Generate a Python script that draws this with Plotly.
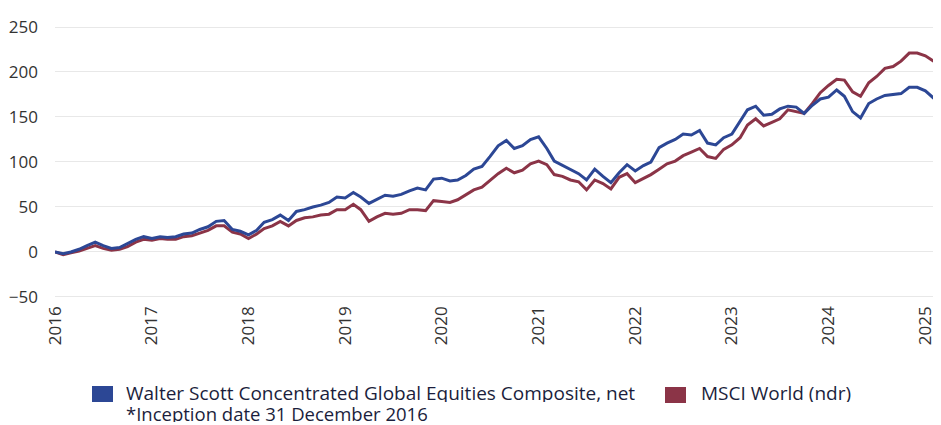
import pandas as pd
import plotly.graph_objects as go

dates = pd.date_range("2016-01-01", periods=111, freq="MS")

walter_scott = [
    0, -2, 0, 3, 7, 11, 7, 4, 5, 9, 14, 17,
    15, 17, 16, 17, 20, 21, 25, 28, 34, 35, 25, 23,
    19, 24, 33, 36, 41, 35, 45, 47, 50, 52, 55, 61,
    60, 66, 61, 54, 58, 63, 62, 64, 68, 71, 69, 81,
    82, 79, 80, 85, 92, 95, 106, 118, 124, 115, 118, 125,
    128, 115, 101, 96, 92, 87, 80, 92, 84, 77, 88, 97,
    90, 96, 100, 116, 121, 125, 131, 130, 135, 121, 119, 127,
    131, 146, 158, 162, 152, 153, 159, 162, 161, 154, 163, 170,
    172, 180, 173, 156, 149, 165, 170, 174, 175, 176, 183, 183,
    179, 171, 168,
]

msci_world = [
    0, -3, -1, 1, 4, 7, 4, 2, 3, 6, 11, 14,
    13, 15, 14, 14, 17, 18, 21, 24, 29, 29, 22, 20,
    15, 20, 26, 29, 34, 29, 35, 38, 39, 41, 42, 47,
    47, 53, 47, 34, 39, 43, 42, 43, 47, 47, 46, 57,
    56, 55, 58, 64, 69, 72, 79, 87, 93, 88, 91, 98,
    101, 97, 86, 84, 80, 78, 69, 80, 76, 70, 83, 87,
    77, 82, 86, 92, 98, 101, 107, 111, 115, 106, 104, 114,
    119, 127, 141, 148, 140, 144, 148, 158, 156, 154, 165, 177,
    185, 192, 191, 178, 173, 188, 195, 204, 206, 212, 221, 221,
    218, 212, 208,
]

series_names = [
    "Walter Scott Concentrated Global Equities Composite, net",
    "MSCI World (ndr)",
]
footnote = "*Inception date 31 December 2016"
year_ticks = [f"{y}-01-01" for y in range(2016, 2026)]
year_labels = [str(y) for y in range(2016, 2026)]
y_ticks = [-50, 0, 50, 100, 150, 200, 250]

BLUE = "#2C4795"
RED = "#8B3447"
TEXT = "#1b1e3c"

fig = go.Figure()
fig.add_trace(go.Scatter(x=dates, y=msci_world, mode="lines", name=series_names[1],
                         line=dict(color=RED, width=3), showlegend=False))
fig.add_trace(go.Scatter(x=dates, y=walter_scott, mode="lines", name=series_names[0],
                         line=dict(color=BLUE, width=3), showlegend=False))

# page body adds an 8px offset; work in reference pixels minus that offset
OFF = 8
W, H = 941 - OFF, 425 - OFF
L, R, T, B = 55 - OFF, 0, 18 - OFF, 123
pw, ph = W - L - R, H - T - B


def px(x):
    return (x - OFF - L) / pw


def py(y):
    return (H - B - (y - OFF)) / ph


# legend drawn manually
fig.add_shape(type="rect", xref="paper", yref="paper", x0=px(92), x1=px(113), y0=py(402), y1=py(386),
              fillcolor=BLUE, line=dict(width=0))
fig.add_shape(type="rect", xref="paper", yref="paper", x0=px(665), x1=px(686), y0=py(403), y1=py(387),
              fillcolor=RED, line=dict(width=0))
legend_font = dict(family="Open Sans", size=19, color=TEXT)
foot_font = dict(family="Open Sans", size=18.5, color=TEXT)
fig.add_annotation(xref="paper", yref="paper", x=px(124), y=py(393), text=series_names[0],
                   showarrow=False, xanchor="left", yanchor="middle", font=legend_font, height=18)
fig.add_annotation(xref="paper", yref="paper", x=px(699), y=py(393), text=series_names[1],
                   showarrow=False, xanchor="left", yanchor="middle", font=legend_font, height=18)
fig.add_annotation(xref="paper", yref="paper", x=px(124), y=py(413), text=footnote,
                   showarrow=False, xanchor="left", yanchor="middle", font=foot_font, height=18)

fig.update_layout(
    width=W, height=H,
    margin=dict(l=L, r=R, t=T, b=B),
    plot_bgcolor="white", paper_bgcolor="white",
    font=dict(family="Open Sans", color="#333333"),
    showlegend=False,
)
fig.update_xaxes(
    range=["2016-01-01", "2025-03-01"],
    tickmode="array", tickvals=year_ticks, ticktext=year_labels,
    tickangle=-90, tickfont=dict(size=17, color="#333333"),
    showgrid=False, zeroline=False, showline=False, ticks="",
)
fig.update_yaxes(
    range=[-55.6, 260],
    tickmode="array", tickvals=y_ticks,
    tickfont=dict(size=17, color="#333333"),
    showgrid=True, gridcolor="#e8e8e8", gridwidth=1,
    zeroline=False, showline=False, ticks="", ticklabelstandoff=16,
)

fig.write_html("out.html")
